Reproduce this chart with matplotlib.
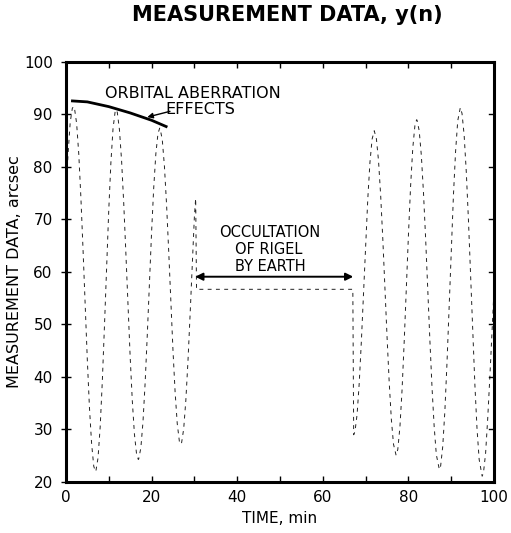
import matplotlib
matplotlib.use("Agg")
import matplotlib.pyplot as plt
from matplotlib.ticker import MultipleLocator

plt.rcParams.update({'font.family': 'DejaVu Sans', 'font.size': 11})

# measured data before the occultation (time in min, arcsec)
t_before = [0.0, 0.5, 1.0, 1.5, 1.8, 2.0, 2.5, 3.0, 3.5, 4.0, 4.5, 5.0, 5.5, 6.0, 6.5, 6.9,
            7.0, 7.5, 8.0, 8.5, 9.0, 9.5, 10.0, 10.5, 11.0, 11.5, 11.7,
            12.0, 12.5, 13.0, 13.5, 14.0, 14.5, 15.0, 15.5, 16.0, 16.5, 16.9,
            17.0, 17.5, 18.0, 18.5, 19.0, 19.5, 20.0, 20.5, 21.0, 21.5, 21.9,
            22.0, 22.5, 23.0, 23.5, 24.0, 24.5, 25.0, 25.5, 26.0, 26.5, 26.8,
            27.0, 27.5, 28.0, 28.5, 29.0, 29.5, 30.0, 30.3]
y_before = [75.0, 82.5, 88.5, 91.2, 91.5, 91.2, 88.3, 82.5, 74.1, 64.2, 53.5, 43.2, 34.1, 27.3, 23.0, 22.0,
            22.1, 24.6, 30.5, 39.2, 49.7, 60.9, 71.7, 80.8, 87.3, 90.6, 90.9,
            90.4, 87.1, 81.2, 73.1, 63.6, 53.6, 43.9, 35.5, 29.1, 25.3, 24.3,
            24.4, 26.5, 31.5, 38.9, 48.0, 57.8, 67.5, 76.0, 82.5, 86.4, 87.4,
            87.3, 85.2, 80.2, 72.9, 64.0, 54.4, 45.1, 37.1, 31.1, 27.7, 27.2,
            27.4, 30.1, 35.5, 43.0, 51.9, 61.4, 70.5, 74.0]

# held value while Rigel is occulted
t_hold = [30.5, 67.0]
y_hold = [56.7, 56.7]

# measured data after the occultation
t_after = [67.2, 67.5, 68.0, 68.5, 69.0, 69.5, 70.0, 70.5, 71.0, 71.5, 72.0,
           72.5, 73.0, 73.5, 74.0, 74.5, 75.0, 75.5, 76.0, 76.5, 77.1,
           77.5, 78.0, 78.5, 79.0, 79.5, 80.0, 80.5, 81.0, 81.5, 81.9,
           82.0, 82.5, 83.0, 83.5, 84.0, 84.5, 85.0, 85.5, 86.0, 86.5, 87.2,
           87.5, 88.0, 88.5, 89.0, 89.5, 90.0, 90.5, 91.0, 91.5, 92.1,
           92.5, 93.0, 93.5, 94.0, 94.5, 95.0, 95.5, 96.0, 96.5, 97.2,
           97.5, 98.0, 98.5, 99.0, 99.5, 100.0]
y_after = [29.0, 29.6, 32.9, 38.9, 46.9, 56.0, 65.5, 74.0, 80.9, 85.3, 86.9,
           85.4, 81.2, 74.6, 66.3, 57.0, 47.5, 38.9, 31.9, 27.2, 25.1,
           26.2, 30.5, 37.6, 46.8, 57.0, 67.3, 76.5, 83.6, 87.9, 89.0,
           88.9, 86.9, 82.2, 75.1, 66.4, 56.7, 46.9, 37.9, 30.5, 25.2, 22.4,
           23.0, 26.8, 33.6, 42.9, 53.5, 64.5, 74.7, 83.0, 88.8, 91.3,
           90.2, 86.0, 79.0, 69.9, 59.4, 48.7, 38.6, 30.2, 24.3, 21.1,
           21.7, 25.4, 32.1, 40.0, 48.5, 57.0]

# envelope sketched over the first three peaks
env_t = [1.2, 5.0, 10.0, 15.0, 20.0, 23.7]
env_y = [92.6, 92.4, 91.5, 90.3, 88.9, 87.6]

fig = plt.figure(figsize=(5.11, 5.33), dpi=100)
ax = fig.add_axes([0.129, 0.0957, 0.838, 0.788])

t_all = t_before + t_hold + t_after
y_all = y_before + y_hold + y_after
ax.plot(t_all, y_all, color="#222222", lw=0.7, linestyle=(0, (4, 4.5)))

ax.plot(env_t, env_y, color="black", lw=2.0, solid_capstyle="butt")
ax.text(29.6, 94.0, "ORBITAL ABERRATION", ha="center", va="center", fontsize=11.5)
ax.text(31.3, 90.9, "EFFECTS", ha="center", va="center", fontsize=11.5)
ax.annotate("", xy=(19.0, 89.5), xytext=(24.3, 90.6),
            arrowprops=dict(arrowstyle="-|>", color="black", lw=1.0,
                            mutation_scale=8, shrinkA=0, shrinkB=0))

ax.annotate("", xy=(30.2, 59.1), xytext=(67.1, 59.1),
            arrowprops=dict(arrowstyle="<|-|>", color="black", lw=1.4,
                            mutation_scale=11, shrinkA=0, shrinkB=0))
ax.text(47.5, 67.5, "OCCULTATION", ha="center", va="center", fontsize=10.5)
ax.text(47.3, 64.3, "OF RIGEL", ha="center", va="center", fontsize=10.5)
ax.text(47.8, 61.1, "BY EARTH", ha="center", va="center", fontsize=10.5)

ax.set_xlim(0, 100)
ax.set_ylim(20, 100)
ax.xaxis.set_major_locator(MultipleLocator(20))
ax.xaxis.set_minor_locator(MultipleLocator(10))
ax.yaxis.set_major_locator(MultipleLocator(10))
ax.tick_params(axis="x", which="both", direction="in", top=True, length=4, width=1, pad=6)
ax.tick_params(axis="y", which="major", direction="inout", right=False, length=7, width=1, pad=6)
for y in range(30, 100, 10):
    ax.plot([100, 98.8], [y, y], color="black", lw=1, clip_on=False)

for s in ax.spines.values():
    s.set_linewidth(2.2)

ax.set_xlabel("TIME, min", fontsize=11, labelpad=4)
ax.set_ylabel("MEASUREMENT DATA, arcsec", fontsize=11.5)
ax.yaxis.set_label_coords(-0.103, 0.5)
fig.text(0.562, 0.972, "MEASUREMENT DATA, y(n)", ha="center", va="center",
         fontsize=15, fontweight="bold")

fig.savefig("out.png", dpi=100)
